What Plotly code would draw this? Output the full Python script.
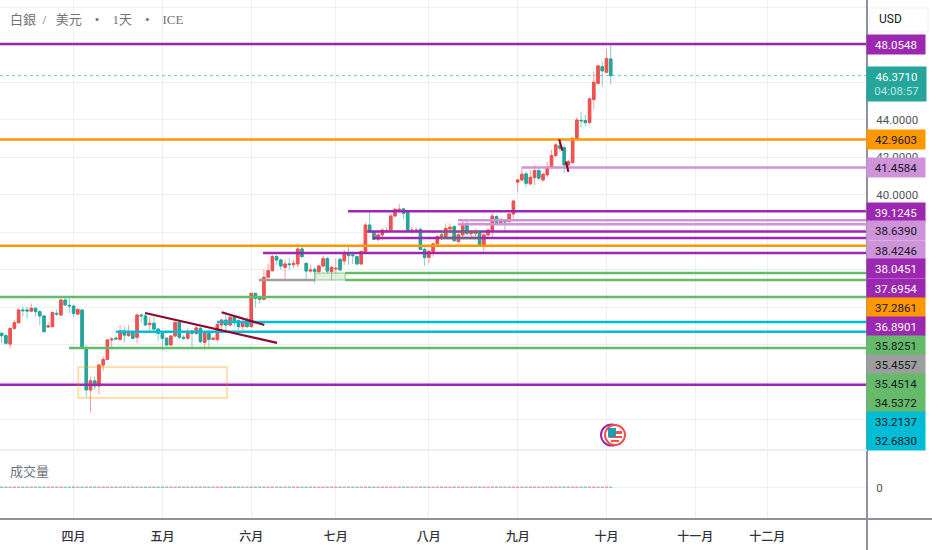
import plotly.graph_objects as go

opens = [32.6,32.48,32.03,32.87,33.17,33.85,33.85,33.79,33.94,33.76,33.53,32.94,32.96,33.67,33.58,34.38,34.1,34.06,33.63,33.85,
         31.8,29.58,30.06,29.79,30.91,31.21,32.25,32.35,32.28,32.73,32.48,32.6,32.39,33.58,33.53,33.07,33.14,32.83,32.6,32.34,
         31.98,32.46,33.19,32.39,32.34,32.73,32.6,32.87,32.12,32.6,32.28,32.28,33.05,33.31,33.05,33.46,33.28,32.96,33.28,32.96,
         34.74,34.5,34.42,35.6,35.95,36.7,36.52,36.13,36.31,36.27,36.31,37.11,36.34,35.93,36.02,35.9,36.2,36.59,35.9,36.04,
         36.56,36.47,36.88,36.79,36.7,36.31,36.97,38.39,38.03,37.63,37.86,38.03,38.12,38.87,39.19,39.25,39.1,38.09,38.09,38.16,
         37.09,36.66,36.98,37.38,37.77,37.77,38.18,38.3,37.5,37.86,38.48,37.93,37.95,38.03,37.29,37.86,38.09,38.84,38.43,38.62,
         38.57,38.98,40.68,40.8,41.12,40.59,40.92,41.3,40.8,41.07,41.48,42.1,42.62,42.52,41.6,41.73,43.02,43.98,43.97,43.86,
         45.09,45.96,46.85,46.55,47.26]
highs = [32.69,32.6,32.87,33.31,33.94,34.03,34.03,34.2,34.0,33.85,33.58,33.22,33.76,33.88,34.47,34.56,34.47,34.12,33.94,33.88,
         31.98,30.29,30.29,31.0,31.39,32.28,32.39,32.42,33.05,32.96,33.05,32.69,33.67,33.67,33.71,33.49,33.49,32.87,32.69,32.42,
         32.51,33.22,33.22,32.51,32.87,32.78,33.05,32.96,32.69,32.78,32.42,33.14,33.4,33.67,33.53,33.58,33.35,33.35,33.49,34.77,
         34.77,34.6,36.02,36.31,36.79,36.79,36.61,36.52,36.61,36.52,37.23,37.27,36.38,36.26,36.13,36.26,36.74,36.7,36.2,36.61,
         36.61,37.06,37.23,36.88,36.75,37.06,38.52,39.1,38.12,37.98,38.21,38.27,38.98,39.28,39.51,39.28,39.16,38.3,38.27,38.21,
         37.2,37.09,37.45,37.86,38.09,38.48,38.48,38.39,37.95,38.57,38.69,38.12,38.21,38.12,37.95,38.21,39.01,38.93,38.75,38.69,
         39.01,39.73,40.8,41.42,41.24,41.33,41.6,41.42,41.16,41.78,42.4,42.76,42.94,42.67,41.87,43.08,44.15,44.45,44.27,45.16,
         46.58,46.94,47.12,47.8,47.97]
lows = [32.07,31.98,31.8,32.78,33.14,33.49,33.4,33.76,33.49,33.05,32.64,32.9,32.92,33.53,33.55,34.06,33.67,33.49,33.58,31.75,
        29.22,28.37,29.61,29.36,30.61,31.18,31.75,32.25,32.21,32.1,32.42,32.28,32.07,33.17,33.0,32.78,32.78,32.21,31.68,31.94,
        31.94,32.42,32.28,32.25,32.25,31.89,32.51,32.07,31.71,31.8,32.25,32.12,32.78,32.69,32.96,32.96,32.78,32.75,32.87,32.92,
        33.99,34.2,34.42,35.54,35.9,36.26,35.99,35.45,35.99,36.08,36.13,36.61,35.49,35.81,35.28,35.77,36.13,35.81,35.42,35.81,
        35.9,36.26,36.26,36.31,36.27,36.27,36.91,37.98,37.59,37.5,37.55,37.98,38.09,38.84,39.05,38.69,37.95,37.91,37.95,37.06,
        36.2,36.34,36.7,37.32,37.59,37.73,37.95,37.5,37.45,37.77,37.86,37.77,37.77,37.27,36.97,37.68,37.68,38.48,38.39,38.09,
        38.52,38.75,40.12,40.71,40.39,40.53,40.53,40.76,40.71,40.94,41.42,42.01,42.26,41.16,41.24,41.65,42.97,43.61,43.65,43.79,
        44.59,45.87,45.78,46.5,45.91]
closes = [32.48,32.07,32.87,33.17,33.85,33.81,33.79,33.94,33.76,33.53,32.69,33.0,33.72,33.63,34.38,34.12,34.06,33.67,33.88,31.8,
          29.58,30.07,29.79,30.91,31.21,32.25,32.3,32.3,32.73,32.51,32.6,32.34,33.58,33.53,33.05,33.14,32.83,32.6,32.34,31.98,
          32.46,33.19,32.39,32.34,32.69,32.6,32.89,32.16,32.6,32.28,32.34,33.08,33.31,33.05,33.46,33.22,32.96,33.22,32.96,34.74,
          34.47,34.42,35.6,35.95,36.7,36.52,36.2,36.31,36.27,36.34,37.11,36.7,35.93,35.99,35.9,36.2,36.59,35.93,36.13,36.08,
          35.99,36.84,36.75,36.75,36.31,36.97,38.39,38.03,37.63,37.86,38.12,38.09,38.87,39.23,39.23,39.01,38.09,38.12,38.12,37.09,
          36.66,36.98,37.38,37.77,37.86,38.21,38.27,37.55,37.86,38.48,37.95,37.98,38.0,37.32,37.86,38.12,38.87,38.52,38.57,38.55,
          38.98,39.67,40.8,41.1,40.62,40.94,41.3,40.89,41.1,41.48,42.1,42.67,42.49,41.6,41.78,43.02,44.0,43.95,43.86,45.13,
          46.02,46.89,46.62,47.28,46.371]
volumes = [1,1,1,1,1,1,1,1,1,1,1,1,1,1,1,1,1,1,1,1,1,1,1,1,1,1,1,1,1,1,1,1,1,1,1,1,1,1,1,1,1,1,1,1,1,1,1,1,1,1,
           1,1,1,1,1,1,1,1,1,1,1,1,1,1,1,1,1,1,1,1,1,1,1,1,1,1,1,1,1,1,1,1,1,1,1,1,1,1,1,1,1,1,1,1,1,1,1,1,1,1,
           1,1,1,1,1,1,1,1,1,1,1,1,1,1,1,1,1,1,1,1,1,1,1,1,1,1,1,1,1,1,1,1,1,1,1,1,1,1,1,1,1,1,1,1,1]

month_ticks = [17, 38, 59, 79, 101, 122, 143, 164, 181]
month_labels = ['四月', '五月', '六月', '七月', '八月', '九月', '十月', '十一月', '十二月']
price_ticks = [28, 30, 32, 34, 36, 38, 40, 42, 44, 46, 48, 50]
# the ones hidden behind the price tags stay blank, their grid lines remain
price_tick_labels = ['', '', '', '', '', '', '40.0000', '42.0000', '44.0000', '', '', '']

# support / resistance lines
level_values = [48.0548, 42.9603, 41.4584, 39.1245, 38.6390, 38.4246, 38.0451, 37.6954, 37.2861, 36.8901,
                35.8251, 35.4557, 35.4514, 34.5372, 33.2137, 32.6830, 31.82, 29.85]
level_starts = [-0.4, -0.4, 122.9, 81.9, 107.9, 107.9, 86.4, 87.8, -0.4, 61.8,
                81.2, 60.8, 81.2, -0.4, 50.9, 27, 15.9, -0.4]
level_ends = [204.6, 204.6, 204.6, 204.6, 204.6, 204.6, 204.6, 204.6, 204.6, 204.6,
              204.6, 74.1, 204.6, 204.6, 204.6, 204.6, 204.6, 204.6]

trend_x = [[33.9, 65.1], [52, 62.1], [131.8, 132.6], [133.4, 134]]
trend_y = [[33.69, 32.09], [33.73, 33.05], [42.97, 42.36], [41.77, 41.24]]

box_x = [[18.1, 53.3], [74.1, 81.2], [104, 113]]
box_y = [[30.8, 29.15], [35.83, 35.45], [38.05, 37.65]]

label_values = [48.0548, 42.9603, 41.4584, 39.1245, 38.6390, 38.4246, 38.0451, 37.6954, 37.2861, 36.8901,
                35.8251, 35.4557, 35.4514, 34.5372, 33.2137, 32.6830]

PURPLE = '#9c27b0'
LILAC = '#ce93d8'
ORANGE = '#ff9800'
GREEN = '#66bb6a'
CYAN = '#00bcd4'
GREY = '#9e9e9e'
RED = '#ef5350'
TEAL = '#26a69a'
DARKRED = '#8c0a2e'
GRID = '#ebf0f4'
W, H = 932, 550
PLOT_R, MAIN_B, VOL_B = 867, 450, 519

level_colors = [PURPLE, ORANGE, LILAC, PURPLE, LILAC, LILAC, PURPLE, PURPLE, ORANGE, PURPLE,
                GREEN, GREY, GREEN, GREEN, CYAN, CYAN, GREEN, PURPLE]
label_colors = [PURPLE, ORANGE, LILAC, PURPLE, LILAC, LILAC, PURPLE, PURPLE, ORANGE, PURPLE,
                GREEN, GREY, GREEN, GREEN, CYAN, CYAN]
label_text = ['#ffffff', '#131722', '#131722', '#ffffff', '#131722', '#131722', '#ffffff', '#ffffff', '#131722', '#ffffff',
              '#131722', '#131722', '#131722', '#131722', '#131722', '#131722']
label_px = [45, 140, 168, 212, 231, 250, 269, 288, 307, 326, 345, 364, 383, 402, 421, 440]
box_lines = ['rgba(255,152,0,0.3)', 'rgba(76,175,80,0.3)', 'rgba(76,175,80,0.3)']
box_fills = ['rgba(255,152,0,0.02)', 'rgba(76,175,80,0.18)', 'rgba(76,175,80,0.18)']


def px_x(x):
    return x / W


def px_y(y):
    return 1 - y / H


idx = list(range(len(closes)))

fig = go.Figure()

vol_colors = ['rgba(38,166,154,0.55)' if c < o else 'rgba(239,83,80,0.55)' for o, c in zip(opens, closes)]
fig.add_trace(go.Bar(x=idx, y=volumes, yaxis='y2', marker=dict(color=vol_colors, line=dict(width=0)), width=0.75))

# wicks come from the candlestick, paler, the solid bodies go on top as bars
fig.add_trace(go.Candlestick(
    x=idx, open=opens, high=highs, low=lows, close=closes,
    increasing=dict(line=dict(color='rgba(239,83,80,0.55)', width=1), fillcolor='rgba(239,83,80,0.55)'),
    decreasing=dict(line=dict(color='rgba(38,166,154,0.55)', width=1), fillcolor='rgba(38,166,154,0.55)'),
))
body_colors = [TEAL if c < o else RED for o, c in zip(opens, closes)]
body_base = [min(o, c) for o, c in zip(opens, closes)]
body_size = [abs(c - o) for o, c in zip(opens, closes)]
fig.add_trace(go.Bar(x=idx, y=body_size, base=body_base, width=0.62,
                     marker=dict(color=body_colors, line=dict(color=body_colors, width=1))))

for x0, x1, v, col in zip(level_starts, level_ends, level_values, level_colors):
    fig.add_trace(go.Scatter(x=[x0, x1], y=[v, v], mode='lines', line=dict(color=col, width=2.5)))

for xs, ys in zip(trend_x, trend_y):
    fig.add_trace(go.Scatter(x=xs, y=ys, mode='lines', line=dict(color=DARKRED, width=2.2)))

# last price dotted line
fig.add_trace(go.Scatter(x=[-0.4, 204.6], y=[closes[-1], closes[-1]], mode='lines',
                         line=dict(color='rgba(38,166,154,0.6)', width=1, dash='dot')))

shapes = []
for xs, ys, lc, fc in zip(box_x, box_y, box_lines, box_fills):
    shapes.append(dict(type='rect', xref='x', yref='y', x0=xs[0], x1=xs[1], y0=ys[0], y1=ys[1],
                       line=dict(color=lc, width=2), fillcolor=fc, layer='above'))

# pane borders
shapes.append(dict(type='line', xref='paper', yref='paper', x0=px_x(PLOT_R), x1=px_x(PLOT_R), y0=0, y1=1,
                   line=dict(color='#8f929b', width=2)))
shapes.append(dict(type='line', xref='paper', yref='paper', x0=0, x1=1, y0=px_y(VOL_B), y1=px_y(VOL_B),
                   line=dict(color='#8f929b', width=2)))
shapes.append(dict(type='line', xref='paper', yref='paper', x0=0, x1=px_x(PLOT_R), y0=px_y(MAIN_B), y1=px_y(MAIN_B),
                   line=dict(color='#eceef3', width=2)))


def circle(cx, cy, r, line, fill, width=2):
    return dict(type='circle', xref='paper', yref='paper', x0=px_x(cx - r), x1=px_x(cx + r),
                y0=px_y(cy + r), y1=px_y(cy - r), line=dict(color=line, width=width), fillcolor=fill)


def rect(x0, y0, x1, y1, fill, line=None):
    return dict(type='rect', xref='paper', yref='paper', x0=px_x(x0), x1=px_x(x1),
                y0=px_y(y1), y1=px_y(y0), line=dict(color=line or fill, width=1 if line else 0), fillcolor=fill)


# USD box
shapes.append(rect(870, 8, 928, 32, 'white', '#f0f3fa'))

# flag event icon
shapes.append(circle(611.5, 435, 10.5, PURPLE, 'white'))
shapes.append(circle(615, 435, 10, RED, 'white'))
shapes.append(rect(609, 431, 622, 434, RED))
shapes.append(rect(609, 436, 622, 438, RED))
shapes.append(rect(611, 440, 619, 442, RED))
shapes.append(rect(608, 428, 616, 437, '#1e9fb0'))

title_font = dict(family='Liberation Serif, Noto Sans CJK TC', size=13, color='#6f727d')
sp2 = '\u00a0\u00a0'
sp3 = '\u00a0\u00a0\u00a0'
sp4 = '\u00a0\u00a0\u00a0\u00a0'
annotations = [
    dict(text='白銀' + sp2 + '/' + sp3 + '美元' + sp4 + '•' + sp4 + '1天' + sp4 + '•' + sp4 + 'ICE',
         xref='paper', yref='paper', x=px_x(8), y=px_y(19),
         xanchor='left', yanchor='middle', showarrow=False, font=title_font),
    dict(text='成交量', xref='paper', yref='paper', x=px_x(8), y=px_y(471),
         xanchor='left', yanchor='middle', showarrow=False, font=title_font),
    dict(text='USD', xref='paper', yref='paper', x=px_x(890), y=px_y(19),
         xanchor='center', yanchor='middle', showarrow=False,
         font=dict(family='Roboto', size=12, color='#131722')),
    dict(text="%.4f<br><span style='color:#b9e3de'>04:08:57</span>" % closes[-1], xref='paper', yref='paper',
         x=px_x(896.5), y=px_y(84), width=59, height=34, xanchor='center', yanchor='middle', showarrow=False,
         bgcolor=TEAL, borderpad=0, font=dict(family='Roboto', size=11.5, color='white')),
]
for v, col, tc, yp in zip(label_values, label_colors, label_text, label_px):
    annotations.append(dict(text='%.4f' % v, xref='paper', yref='paper', x=px_x(896), y=px_y(yp),
                            width=58, height=19, xanchor='center', yanchor='middle', showarrow=False,
                            bgcolor=col, borderpad=0, font=dict(family='Roboto', size=11.5, color=tc)))

fig.update_layout(
    width=W, height=H,
    margin=dict(l=0, r=0, t=0, b=0),
    paper_bgcolor='white', plot_bgcolor='white',
    showlegend=False, hovermode=False, barmode='overlay',
    shapes=shapes, annotations=annotations,
    xaxis=dict(domain=[0, px_x(PLOT_R)], range=[-0.4, 204.6], anchor='y2', rangeslider=dict(visible=False),
               tickmode='array', tickvals=month_ticks, ticktext=month_labels, ticks='outside', ticklen=7,
               tickcolor='rgba(0,0,0,0)', gridcolor=GRID, gridwidth=1, zeroline=False, showline=False,
               tickfont=dict(family='Noto Sans CJK TC', size=12, color='#2f323c', weight=500)),
    yaxis=dict(domain=[px_y(MAIN_B), 1], range=[26.37, 50.41], anchor='x', side='right',
               tickmode='array', tickvals=price_ticks, ticktext=price_tick_labels, ticks='outside', ticklen=6,
               tickcolor='rgba(0,0,0,0)', gridcolor=GRID, gridwidth=1, zeroline=False, showline=False,
               tickfont=dict(family='Roboto', size=11.5, color='#50535e')),
    yaxis2=dict(domain=[px_y(VOL_B), px_y(MAIN_B)], range=[-20.7, 25.3], anchor='x', side='right',
                tickmode='array', tickvals=[0], ticktext=['0'], ticks='outside', ticklen=6,
                tickcolor='rgba(0,0,0,0)', gridcolor=GRID, gridwidth=1, zeroline=False, showline=False,
                tickfont=dict(family='Roboto', size=11.5, color='#50535e')),
)

fig.write_html("out.html", config=dict(displayModeBar=False),
               post_script="document.body.style.margin='0';document.body.style.overflow='hidden';")
